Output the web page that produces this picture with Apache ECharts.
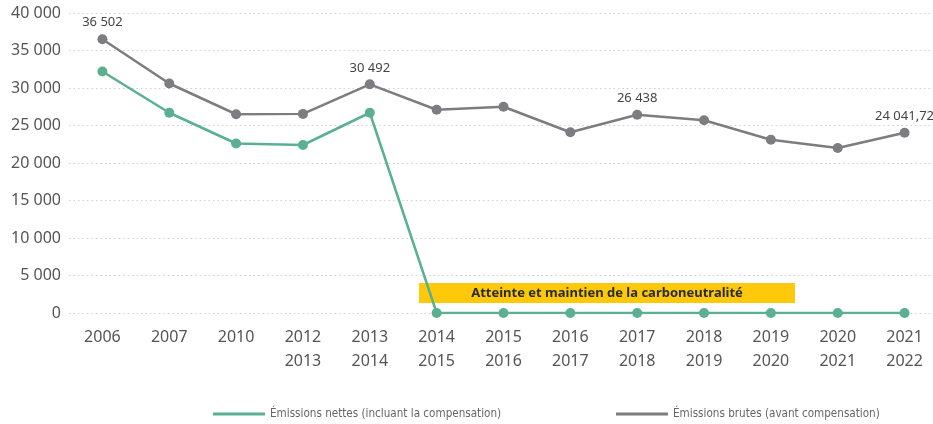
<!DOCTYPE html>
<html>
<head>
<meta charset="utf-8">
<script src="https://cdn.jsdelivr.net/npm/echarts@6/dist/echarts.min.js"></script>
<style>
  html, body { margin: 0; padding: 0; background: #fff; overflow: hidden; }
  #chart { width: 938px; height: 424px; }
</style>
</head>
<body>
<div id="chart"></div>
<script>
// périodes (axe x)
const periodes = ['2006', '2007', '2010', '2012\n2013', '2013\n2014', '2014\n2015', '2015\n2016',
  '2016\n2017', '2017\n2018', '2018\n2019', '2019\n2020', '2020\n2021', '2021\n2022'];
// émissions brutes (avant compensation)
const brutes = [36502, 30600, 26500, 26550, 30492, 27100, 27500, 24100, 26438, 25700, 23100, 22000, 24041.72];
// émissions nettes (incluant la compensation)
const nettes = [32200, 26700, 22600, 22400, 26700, 0, 0, 0, 0, 0, 0, 0, 0];
// points étiquetés sur la courbe brute
const pointsEtiquetes = [0, 4, 8, 12];
const yTicks = [0, 5000, 10000, 15000, 20000, 25000, 30000, 35000, 40000];

const nomNettes = 'Émissions nettes (incluant la compensation)';
const nomBrutes = 'Émissions brutes (avant compensation)';
const VERT = '#5cb092';
const GRIS = '#7d7c81';
const FONT = '"Noto Sans", sans-serif';
const FONT_LEG = '"Liberation Sans Narrow", "DejaVu Sans Condensed", sans-serif';

function fmt(v) {
  let parts = String(v).split('.');
  let ent = parts[0].replace(/\B(?=(\d{3})+(?!\d))/g, ' ');
  return parts.length > 1 ? ent + ',' + parts[1] : ent;
}

let myChart = echarts.init(document.getElementById('chart'));
myChart.setOption({
  animation: false,
  grid: {
    left: 69,
    right: 0,
    top: 13,
    bottom: 111
  },
  legend: [
    {
      data: [nomNettes],
      left: 208,
      top: 403,
      icon: 'rect',
      itemWidth: 52,
      itemHeight: 3,
      textStyle: { fontFamily: FONT_LEG, fontSize: 11.6, color: '#666' }
    },
    {
      data: [nomBrutes],
      left: 611,
      top: 403,
      icon: 'rect',
      itemWidth: 52,
      itemHeight: 3,
      textStyle: { fontFamily: FONT_LEG, fontSize: 11.6, color: '#666' }
    }
  ],
  xAxis: {
    type: 'category',
    data: periodes,
    boundaryGap: true,
    axisLine: { show: false },
    axisTick: { show: false },
    axisLabel: {
      margin: 13,
      color: '#555',
      fontFamily: FONT,
      fontSize: 16,
      lineHeight: 23.5
    }
  },
  yAxis: {
    type: 'value',
    min: yTicks[0],
    max: yTicks[yTicks.length - 1],
    interval: 5000,
    axisLine: { show: false },
    axisTick: { show: false },
    axisLabel: {
      margin: 8,
      color: '#555',
      fontFamily: FONT,
      fontSize: 16,
      formatter: v => fmt(v)
    },
    splitLine: {
      lineStyle: { color: '#cfcfcf', type: [1.5, 3], width: 1 }
    }
  },
  series: [
    {
      name: nomBrutes,
      type: 'line',
      data: brutes.map((v, i) => ({
        value: v,
        label: { show: pointsEtiquetes.indexOf(i) >= 0 }
      })),
      symbol: 'circle',
      symbolSize: 10,
      z: 2,
      lineStyle: { color: GRIS, width: 2.5 },
      itemStyle: { color: GRIS },
      label: {
        position: 'top',
        distance: 5,
        color: '#444',
        fontFamily: FONT,
        fontSize: 13,
        formatter: p => fmt(p.value)
      }
    },
    {
      name: nomNettes,
      type: 'line',
      data: nettes,
      symbol: 'circle',
      symbolSize: 10,
      z: 3,
      lineStyle: { color: VERT, width: 2.5 },
      itemStyle: { color: VERT }
    }
  ],
  graphic: [
    {
      type: 'group',
      left: 419,
      top: 283,
      z: 10,
      children: [
        {
          type: 'rect',
          shape: { x: 0, y: 0, width: 376, height: 20 },
          style: { fill: '#fdc90a' }
        },
        {
          type: 'text',
          x: 188,
          y: 10,
          style: {
            text: 'Atteinte et maintien de la carboneutralité',
            fill: '#2b2b2b',
            font: 'bold 13px "Noto Sans", sans-serif',
            align: 'center',
            verticalAlign: 'middle'
          }
        }
      ]
    }
  ]
});
</script>
</body>
</html>
